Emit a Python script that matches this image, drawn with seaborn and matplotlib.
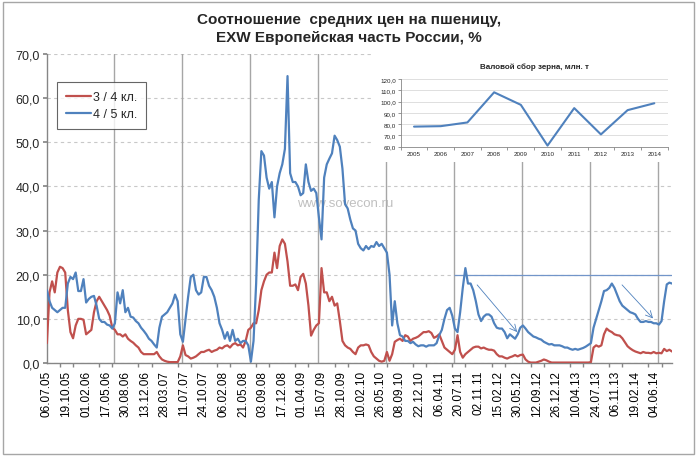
"""Wheat price ratio 3/4 and 4/5 class, EXW European Russia, with grain harvest inset."""
import matplotlib.pyplot as plt
import matplotlib.ticker as mticker
import pandas as pd
import seaborn as sns
from matplotlib.patches import Rectangle

START = "2005-07-06"

# ratio 3rd / 4th class, %  (one row = one season, 26 two-week steps)
ratio_3_4 = [
    4.5, 16, 18.5, 16, 20.5, 21.8, 21.5, 20.5, 12, 7, 5.6, 8.5, 10, 10, 9.8, 6.5, 7, 7.5, 11.5, 14, 15, 14, 13, 12, 10.7, 8,
    7.5, 6.5, 6.5, 6, 6.5, 5.5, 5, 4.6, 4, 3.5, 2.5, 2, 2, 2, 2, 2, 2.5, 1.5, 0.8, 0.5, 0.3, 0.2, 0.2, 0.2, 0.2, 1.5,
    4, 1.8, 1.5, 1, 1.2, 1.5, 2, 2.5, 2.5, 2.8, 3, 2.5, 2.8, 3, 3.5, 3.3, 3.8, 4, 3.5, 4.2, 4.5, 4, 4.2, 3.5, 5, 7.5,
    8, 9, 9, 12, 16.5, 18.5, 20, 20.5, 20.5, 25, 21.5, 26.5, 28, 27, 23, 17.5, 17.5, 17.8, 16.5, 19.5, 20.2, 18, 13, 6.2, 7.5, 8.5,
    9, 21.5, 16, 16, 14, 15, 13, 13.5, 9.5, 5, 4, 3.5, 3.2, 2.5, 2, 3.5, 4, 4, 4.2, 4, 2.5, 1.5, 1, 0.5, 0.3, 0.5,
    2.5, 0.5, 2, 4.8, 5.2, 5.5, 5, 6.3, 6, 5, 5.5, 5.7, 6, 6.5, 7, 7, 7.2, 6.8, 5.7, 6, 6.5, 5, 3.5, 3, 2.5, 2,
    3, 6.3, 2.5, 1.2, 2, 2.5, 3, 3.5, 3.7, 3.7, 3.3, 3.5, 3.2, 3, 3, 2.8, 2, 1.5, 1.5, 1.2, 1, 1.3, 1.5, 1.8, 1.5, 1.8,
    1.9, 0.8, 0.3, 0.1, 0.1, 0.1, 0.3, 0.5, 0.8, 0.6, 0.3, 0.1, 0.1, 0.1, 0.1, 0.1, 0.1, 0.1, 0.1, 0.1, 0.1, 0.1, 0.1, 0.1, 0.1, 0.1,
    0.2, 3.5, 4, 3.7, 4, 6.5, 7.8, 7.3, 7, 6.5, 6.3, 6.2, 5.6, 4.7, 3.8, 3.3, 2.9, 2.6, 2.4, 2.2, 2.5, 2.3, 2.3, 2.2, 2.5, 2.2,
    2.3, 2.2, 3.2, 2.7, 3, 2.6,
]

# ratio 4th / 5th class, %
ratio_4_5 = [
    16.5, 14, 12.5, 12, 11.5, 12, 12.5, 12.5, 18, 19.5, 19, 20.5, 16.3, 16.3, 19, 13.7, 14.5, 15, 15.2, 13, 10, 9.3, 9.3, 8.7, 8.5, 7.8,
    9, 16, 13.5, 16.5, 11.5, 12.5, 10.5, 10.3, 9.5, 9, 8, 7.3, 6.5, 5.5, 5, 4.2, 3.5, 8, 10.5, 11, 11.5, 12.5, 13.5, 15.5, 14, 6.5,
    4.8, 10, 15, 19.5, 20, 16.5, 15.5, 16, 19.5, 19.5, 17.5, 16.5, 15, 12.5, 9, 7.5, 5.5, 7, 5, 7.5, 5, 5.5, 4.5, 5, 5, 4,
    0.3, 5, 18, 37, 48, 47, 42, 39.5, 41, 33, 40, 43, 45, 48.5, 65, 43, 41, 41, 40, 38, 38.5, 45, 41, 39, 39.5, 38.5,
    33, 28, 42, 45, 46.3, 47.5, 51.5, 50.5, 49, 44, 36, 35, 32.5, 30.5, 30, 27, 26, 25.5, 26.5, 25.8, 26.5, 26.3, 27.4, 26.5, 27, 26,
    25, 20, 8.5, 14, 9, 6.3, 6, 5, 5, 4.5, 4.8, 4.2, 3.8, 4, 4, 3.7, 4, 4, 4, 4.5, 6.3, 7.5, 10, 12, 12.5, 10.7,
    7.8, 7, 11.5, 17, 21.5, 18, 18, 16.5, 14, 11, 9.5, 10.5, 11, 11, 10.5, 9, 8, 7.8, 7.8, 7, 5.6, 6.5, 6, 5.5, 6.5, 8,
    8.5, 7.8, 7, 6.5, 6, 5.8, 5.5, 5.3, 4.8, 4.5, 4.2, 4.3, 4, 4, 4, 3.8, 3.5, 3.5, 3.2, 3, 3.2, 3, 3.2, 3.4, 3.7, 4.1,
    4.5, 8, 10, 12, 14, 16.3, 16.5, 17, 18, 17, 15.5, 14, 13, 12.5, 12, 11.5, 11.3, 11, 10, 9.3, 9.3, 9.5, 9.3, 9.3, 9, 9,
    8.7, 9.5, 14, 17.8, 18.2, 18,
]

series_labels = ["3 / 4 кл.", "4 / 5 кл."]

# inset: gross grain harvest, mln t
harvest_years = ["2005", "2006", "2007", "2008", "2009", "2010", "2011", "2012", "2013", "2014"]
harvest_mln_t = [77.8, 78.2, 81.5, 108.2, 97.1, 61.0, 94.2, 70.9, 92.4, 98.5]

RED = "#c0504d"
BLUE = "#4f81bd"
AXIS_GREY = "#868686"

sns.set_theme(style="white")
plt.rcParams["font.family"] = ["Liberation Sans", "DejaVu Sans"]

start = pd.Timestamp(START)
dates = pd.date_range(start, periods=len(ratio_3_4), freq="14D")
end = dates[-1]
df = pd.DataFrame({"date": dates, series_labels[0]: ratio_3_4, series_labels[1]: ratio_4_5})
long = df.melt("date", var_name="pair", value_name="ratio")

fig = plt.figure(figsize=(7, 4.6), dpi=100)
ax = fig.add_axes([0.067, 0.2087, 0.893, 0.6717])

sns.lineplot(data=long, x="date", y="ratio", hue="pair", palette=[RED, BLUE],
             linewidth=1.6, ax=ax, zorder=3)

ax.set_xlim(start, end)
ax.set_ylim(0, 70)
ax.set_xlabel("")
ax.set_ylabel("")

# season lines (early July) and dashed horizontal grid
for k in range(1, 10):
    ax.axvline(start + pd.Timedelta(weeks=52 * k - 1), color="#a6a6a6", lw=1, zorder=1)
ax.set_yticks(range(0, 71, 10))
ax.yaxis.grid(True, linestyle=(0, (3, 3)), color="#c8c8c8", lw=0.8)
ax.xaxis.grid(False)
ax.yaxis.set_major_formatter(mticker.FuncFormatter(lambda v, _: f"{v:.1f}".replace(".", ",")))

tick_dates = pd.date_range(start, periods=32, freq="105D")
ax.set_xticks(tick_dates)
ax.set_xticklabels([d.strftime("%d.%m.%y") for d in tick_dates], rotation=90, fontsize=8.5)
ax.set_xticks(pd.date_range(start, end, freq="70D"), minor=True)
ax.tick_params(axis="x", which="major", length=0, pad=5, colors="black")
ax.tick_params(axis="x", which="minor", length=3, color=AXIS_GREY, bottom=True)
ax.tick_params(axis="y", length=3, color=AXIS_GREY, labelsize=9, pad=2, left=True)

for side in ("top", "right"):
    ax.spines[side].set_visible(False)
for side in ("left", "bottom"):
    ax.spines[side].set_color(AXIS_GREY)
    ax.spines[side].set_linewidth(1)

# resistance level and downtrend arrows
ax.hlines(20, start + pd.Timedelta(weeks=311), end, color="#7295c9", lw=0.9, zorder=2)
arrows = [((329, 17.7), (359.6, 7.0)), ((439.8, 17.7), (463.5, 10.1))]
for (w0, v0), (w1, v1) in arrows:
    ax.annotate("", xy=(start + pd.Timedelta(weeks=w1), v1), xytext=(start + pd.Timedelta(weeks=w0), v0),
                arrowprops=dict(arrowstyle="->", color=BLUE, lw=0.6, shrinkA=0, shrinkB=0), zorder=2)

ax.text(0.477, 0.518, "www.sovecon.ru", transform=ax.transAxes, ha="center", va="center",
        color="#c0c0c0", fontsize=9.5, zorder=1)

handles, labels = ax.get_legend_handles_labels()
leg = ax.legend(handles, labels, loc="upper left", bbox_to_anchor=(0.016, 0.909), borderaxespad=0,
                frameon=True, fancybox=False, edgecolor="#404040", fontsize=9,
                handlelength=2.0, handletextpad=0.15, borderpad=0.7, labelspacing=0.4)
leg.get_frame().set_linewidth(0.8)

# inset sits on a white card over the chart
fig.add_artist(Rectangle((0.531, 0.6457), 0.454, 0.2457, transform=fig.transFigure,
                         facecolor="white", edgecolor="none", zorder=1))
iax = fig.add_axes([0.5724, 0.6789, 0.3814, 0.1472])
iax.set_zorder(2)
sns.lineplot(x=harvest_years, y=harvest_mln_t, color=BLUE, linewidth=1.5, ax=iax)
iax.set_xlim(-0.5, len(harvest_years) - 0.5)
iax.set_ylim(60, 120)
iax.set_yticks(range(60, 121, 10))
iax.yaxis.set_major_formatter(mticker.FuncFormatter(lambda v, _: f"{v:.1f}".replace(".", ",")))
iax.yaxis.grid(True, color="#d9d9d9", lw=0.6)
iax.xaxis.grid(False)
iax.set_xticks([i - 0.5 for i in range(len(harvest_years) + 1)], minor=True)
iax.tick_params(axis="x", which="major", length=0, labelsize=4.5, pad=3)
iax.tick_params(axis="x", which="minor", length=2, color=AXIS_GREY, width=0.6, bottom=True)
iax.tick_params(axis="y", length=2, color=AXIS_GREY, width=0.6, labelsize=4.5, pad=1.5, left=True)
for side in ("top", "right"):
    iax.spines[side].set_visible(False)
for side in ("left", "bottom"):
    iax.spines[side].set_color(AXIS_GREY)
    iax.spines[side].set_linewidth(0.6)
iax.set_title("Валовой сбор зерна, млн. т", fontsize=5.8, fontweight="bold", pad=8)

fig.text(0.499, 1 - 29 / 460, "Соотношение  средних цен на пшеницу,\nEXW Европейская часть России, %",
         ha="center", va="center", fontsize=11, fontweight="bold", linespacing=1.3)

fig.add_artist(Rectangle((0.0043, 0.0109), 0.987, 0.9826, transform=fig.transFigure,
                         fill=False, edgecolor="#a6a6a6", lw=1))

fig.savefig("out.png", dpi=100)
plt.close(fig)
